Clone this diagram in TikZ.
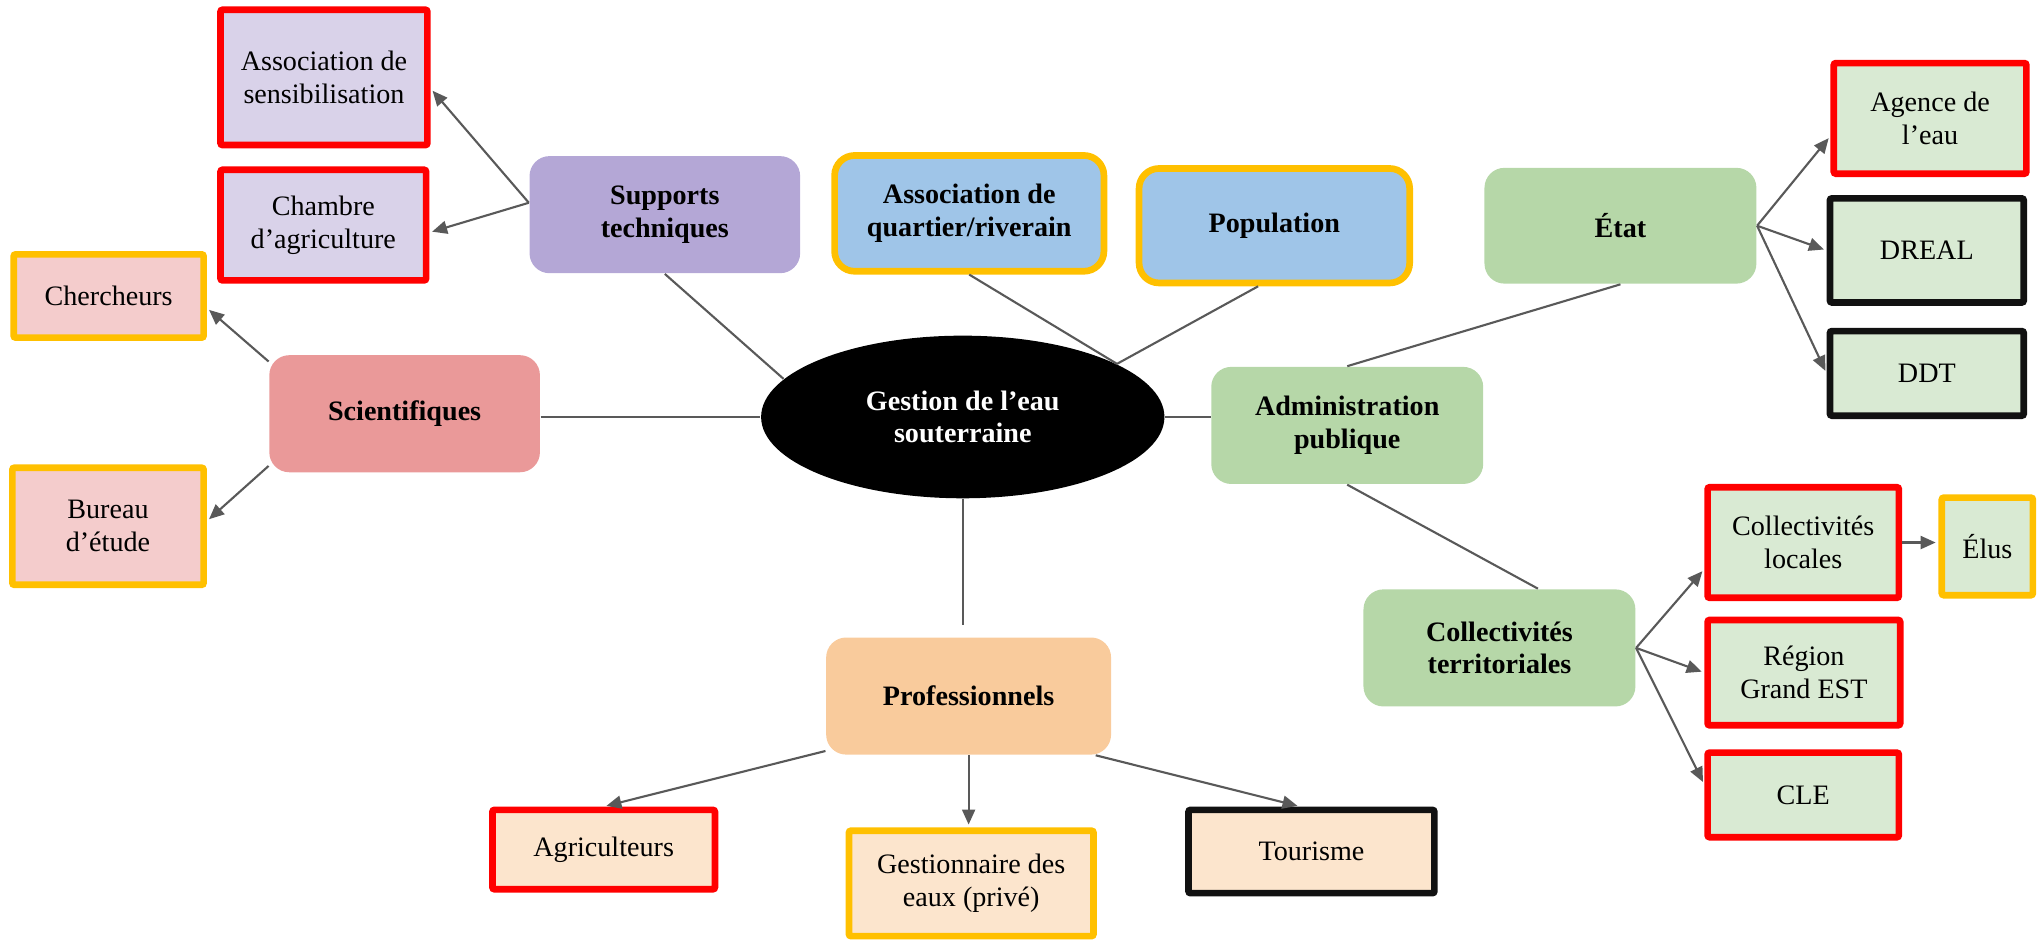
\documentclass[tikz,border=0pt]{standalone}
\usepackage{fontspec}
\setmainfont{Liberation Serif}
\usetikzlibrary{arrows.meta,shapes.geometric}

\definecolor{linkgray}{HTML}{595959}
\definecolor{bordred}{HTML}{FF0000}
\definecolor{bordyel}{HTML}{FFC000}
\definecolor{bordblk}{HTML}{111111}
\definecolor{violetdark}{HTML}{B4A7D6}
\definecolor{violetlight}{HTML}{D9D2E9}
\definecolor{rosedark}{HTML}{EA9999}
\definecolor{roselight}{HTML}{F4CCCC}
\definecolor{bluemid}{HTML}{9FC5E8}
\definecolor{greendark}{HTML}{B6D7A8}
\definecolor{greenlight}{HTML}{D9EAD3}
\definecolor{peachdark}{HTML}{F9CB9C}
\definecolor{peachlight}{HTML}{FCE5CD}

\begin{document}
\begin{tikzpicture}[x=0.1301mm,y=-0.1301mm,
  font=\fontsize{8}{9.3}\selectfont,
  wh/.style 2 args={minimum width=#1*0.1301mm, minimum height=#2*0.1301mm},
  hub/.style={rounded corners=2mm, align=center, inner sep=0pt,
    font=\fontsize{8}{9.3}\selectfont\bfseries},
  leaf/.style={draw, line width=1.9pt, rounded corners=0.6pt, align=center, inner sep=0pt},
  redbox/.style={leaf, draw=bordred},
  yelbox/.style={leaf, draw=bordyel},
  blkbox/.style={leaf, draw=bordblk},
  link/.style={draw=linkgray, line width=0.6pt},
  arr/.style={link, shorten >=0.8pt, -{Triangle[length=1.5mm,width=1.3mm]}},
]
\useasboundingbox (0,0) rectangle (1568,727);

% central topic
\node[ellipse, fill=black, text=white, wh={310}{125}, inner sep=0pt, align=center,
      font=\fontsize{8}{9.3}\selectfont\bfseries] (ell) at (740,320.5)
      {Gestion de l’eau\\souterraine};

% first-level groups
\node[hub, fill=violetdark, wh={208}{90}] (supp) at (511,165) {Supports\\techniques};
\node[hub, fill=rosedark, wh={208}{90}] (scien) at (311,318) {Scientifiques};
\node[hub, fill=bluemid, draw=bordyel, line width=1.9pt, wh={207}{89}] (quart) at (745,164)
      {Association de\\quartier/riverain};
\node[hub, fill=bluemid, draw=bordyel, line width=1.9pt, wh={208}{88}] (pop) at (979.5,173.5)
      {Population};
\node[hub, fill=greendark, wh={209}{89}] (etat) at (1245.5,173.5) {État};
\node[hub, fill=greendark, wh={209}{90}] (admin) at (1035.5,327) {Administration\\publique};
\node[hub, fill=greendark, wh={209}{90}] (collt) at (1152.5,498) {Collectivités\\territoriales};
\node[hub, fill=peachdark, wh={219}{90}] (prof) at (744.5,535) {Professionnels};

% actors
\node[redbox, fill=violetlight, wh={159}{104}] (asens) at (249,59.5) {Association de\\sensibilisation};
\node[redbox, fill=violetlight, wh={158}{85}] (chambre) at (248.5,173) {Chambre\\d’agriculture};
\node[yelbox, fill=roselight, wh={146}{64}] (cherch) at (83.5,227.5) {Chercheurs};
\node[yelbox, fill=roselight, wh={147}{90}] (bureau) at (83,404.5) {Bureau\\d’étude};
\node[redbox, fill=greenlight, wh={148}{85}] (agence) at (1483.5,91) {Agence de\\l’eau};
\node[blkbox, fill=greenlight, wh={149}{80}] (dreal) at (1481,192.5) {DREAL};
\node[blkbox, fill=greenlight, wh={149}{65}] (ddt) at (1481,287) {DDT};
\node[redbox, fill=greenlight, wh={147}{85}] (colloc) at (1386,417) {Collectivités\\locales};
\node[yelbox, fill=greenlight, wh={70}{75}] (elus) at (1527.5,420) {Élus};
\node[redbox, fill=greenlight, wh={148}{81}] (region) at (1386.5,517) {Région\\Grand EST};
\node[redbox, fill=greenlight, wh={147}{65}] (cle) at (1386,611) {CLE};
\node[redbox, fill=peachlight, wh={171}{61}] (agri) at (464,653) {Agriculteurs};
\node[yelbox, fill=peachlight, wh={188}{81}] (gest) at (746.5,679) {Gestionnaire des\\eaux (privé)};
\node[blkbox, fill=peachlight, wh={189}{64}] (tour) at (1008,654.5) {Tourisme};

% links to the central topic
\draw[link] (supp.south) -- (ell.168);
\draw[link] (scien.east |- ell.west) -- (ell.west);
\draw[link] (quart.south) -- (ell.19);
\draw[link] (pop.255) -- (ell.19);
\draw[link] (ell.east) -- (ell.east -| admin.west);
\draw[link] (ell.south) -- ([yshift=1.2mm]ell.south |- prof.north);

% administration branches
\draw[link] (admin.north) -- (etat.south);
\draw[link] (admin.south) -- (collt.57);

% arrows to actors
\draw[arr] (supp.175) -- (asens.-6);
\draw[arr] (supp.175) -- (chambre.-4);
\draw[arr] (scien.159) -- (cherch.-7);
\draw[arr] (scien.201) -- (bureau.3);
\draw[arr] (etat.east) -- (agence.190);
\draw[arr] (etat.east) -- (dreal.west);
\draw[arr] (etat.east) -- (ddt.west);
\draw[arr] (collt.east) -- (colloc.195);
\draw[arr] (collt.east) -- (region.west);
\draw[arr] (collt.east) -- (cle.174);
\draw[arr] (colloc.east) -- (colloc.east -| elus.west);
\draw[arr] (prof.201) -- (agri.north);
\draw[arr] (prof.south) -- (prof.south |- gest.north);
\draw[arr] (prof.-25) -- (tour.104);
\end{tikzpicture}
\end{document}
